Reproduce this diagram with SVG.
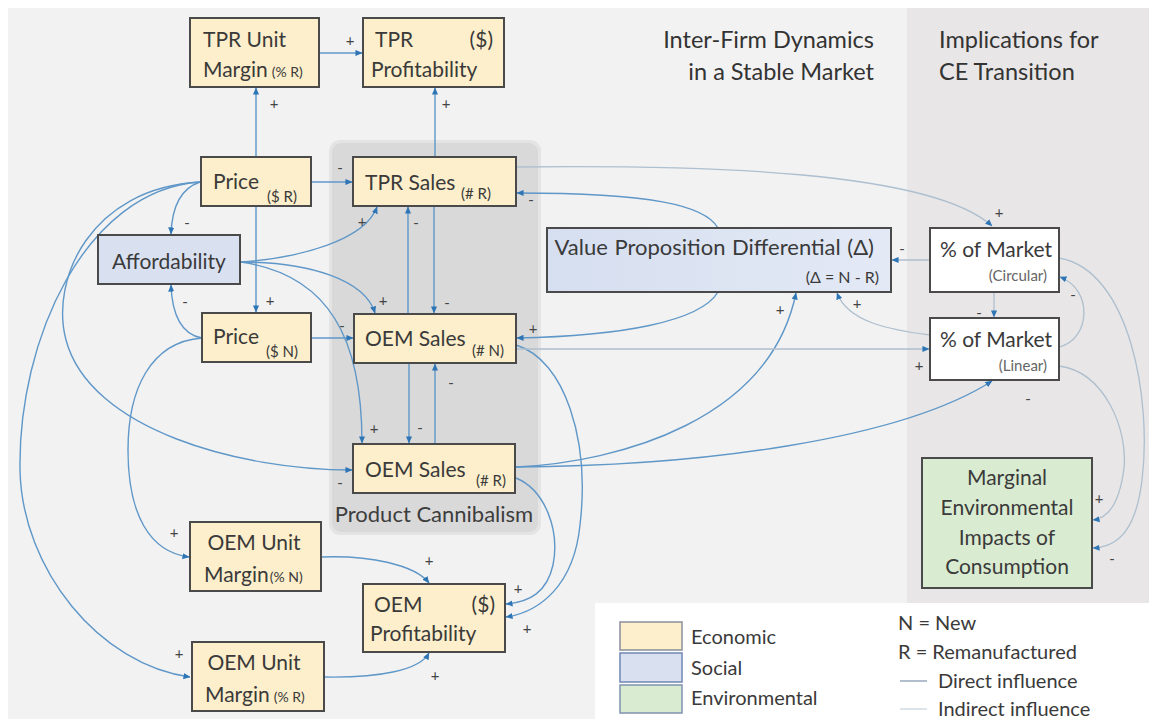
<svg xmlns="http://www.w3.org/2000/svg" width="1149" height="719" viewBox="0 0 1149 719">
<style>
  text { font-family: Lato, "Liberation Sans", sans-serif; fill: #3a3a3a; }
  .box { stroke: #4a4a4a; stroke-width: 2; }
  .eco { fill: #fdefcb; }
  .soc { fill: #d9e1f1; }
  .env { fill: #d9ebd1; }
  .wht { fill: #ffffff; }
  .lbl { font-size: 21px; }
  .sub { font-size: 14px; }
  .title { font-size: 23.5px; fill: #333333; }
  .sign { font-size: 15px; text-anchor: middle; dominant-baseline: central; fill: #444444; }
  .d { fill: none; stroke: #5f97c8; stroke-width: 1.4; marker-end: url(#ah); }
  .i { fill: none; stroke: #aebfcf; stroke-width: 1.3; marker-end: url(#ah); }
  .leg { font-size: 20px; }
</style>
<defs>
  <marker id="ah" viewBox="0 0 8 8" refX="7.5" refY="4" markerWidth="7" markerHeight="7" markerUnits="userSpaceOnUse" orient="auto">
    <path d="M0,0.5 L8,4 L0,7.5 z" fill="#2e75b6"/>
  </marker>
  <linearGradient id="vpg" x1="0" y1="0" x2="1" y2="0">
    <stop offset="0" stop-color="#d6dff0"/>
    <stop offset="1" stop-color="#e3e9f5"/>
  </linearGradient>
</defs>

<!-- backgrounds -->
<rect x="0" y="0" width="1149" height="719" fill="#ffffff"/>
<rect x="8" y="8" width="1141" height="711" fill="#f2f2f2"/>
<rect x="907" y="8" width="242" height="596" fill="#e8e6e6"/>
<rect x="329" y="140" width="212" height="395" rx="11" fill="#e4e4e4"/>
<rect x="332" y="143" width="206" height="389" rx="9" fill="#d9d9d9"/>
<text x="434" y="522" text-anchor="middle" style="font-size:22px;fill:#3d3d3d">Product Cannibalism</text>
<text x="874" y="48" text-anchor="end" class="title">Inter-Firm Dynamics</text>
<text x="874" y="80" text-anchor="end" class="title">in a Stable Market</text>
<text x="939" y="48" class="title">Implications for</text>
<text x="939" y="80" class="title">CE Transition</text>

<!-- connectors -->
<g id="connectors">
  <path class="d" d="M320,53 L362,53"/>
  <path class="d" d="M256,157 L256,88"/>
  <path class="d" d="M435,157 L435,88"/>
  <path class="d" d="M311,182 L352,182"/>
  <path class="d" d="M200,182 C182,188 172,205 171,234"/>
  <path class="d" d="M256,206 L256,312"/>
  <path class="d" d="M202,338 C182,335 172,315 171,285"/>
  <path class="d" d="M241,262 C300,258 365,240 377,207"/>
  <path class="d" d="M241,262 C310,262 365,280 375,313"/>
  <path class="d" d="M241,262 C330,275 362,340 362,443"/>
  <path class="d" d="M311,338 L353,338"/>
  <path class="d" d="M408,314 L408,207"/>
  <path class="d" d="M434,206 L434,313"/>
  <path class="d" d="M409,363 L409,443"/>
  <path class="d" d="M435,444 L435,364"/>
  <path class="d" d="M200,182 C90,188 50,280 66,340 C90,430 240,470 352,470"/>
  <path class="d" d="M200,182 C85,190 18,340 20,470 C22,570 100,665 190,677"/>
  <path class="d" d="M202,338 C150,342 128,390 128,450 C128,515 150,552 189,557"/>
  <path class="d" d="M321,557 C370,555 415,565 429,583"/>
  <path class="d" d="M324,677 C380,678 420,670 429,653"/>
  <path class="d" d="M516,478 C545,490 560,530 553,565 C547,592 530,602 506,604"/>
  <path class="d" d="M516,345 C565,360 590,440 580,525 C574,585 540,612 506,617"/>
  <path class="d" d="M718,228 C705,205 650,193 517,193"/>
  <path class="d" d="M718,292 C700,322 620,336 517,338"/>
  <path class="d" d="M516,467 C620,462 770,420 796,293"/>
  <path class="d" d="M516,467 C700,466 900,440 992,381"/>
  <path class="i" d="M516,349 L929,349"/>
  <path class="i" d="M516,167 C700,165 930,170 992,226"/>
  <path class="i" d="M930,260 L892,260"/>
  <path class="i" d="M930,335 C890,330 848,322 837,293"/>
  <path class="i" d="M994,292 L994,317"/>
  <path class="i" d="M1059,347 C1090,340 1094,290 1060,277"/>
  <path class="i" d="M1059,258 C1130,270 1152,400 1142,480 C1136,530 1118,547 1093,548"/>
  <path class="i" d="M1059,366 C1105,372 1128,430 1124,468 C1120,500 1110,518 1093,520"/>
</g>

<!-- nodes -->
<g id="tpr-unit-margin">
  <rect class="box eco" x="190" y="18" width="129" height="69"/>
  <text class="lbl" x="203" y="47">TPR Unit</text>
  <text class="lbl" x="203" y="77">Margin<tspan class="sub" dx="4">(% R)</tspan></text>
</g>
<g id="tpr-profitability">
  <rect class="box eco" x="363" y="18" width="141" height="69"/>
  <text class="lbl" x="375" y="47">TPR</text>
  <text class="lbl" x="493" y="47" text-anchor="end">($)</text>
  <text class="lbl" x="371" y="77">Profitability</text>
</g>
<g id="price-r">
  <rect class="box eco" x="201" y="157" width="110" height="49"/>
  <text class="lbl" x="213" y="189">Price</text>
  <text class="sub" x="267" y="202" style="font-size:15px">($ R)</text>
</g>
<g id="tpr-sales">
  <rect class="box eco" x="353" y="157" width="163" height="49"/>
  <text class="lbl" x="365" y="190">TPR Sales</text>
  <text class="sub" x="461" y="199" style="font-size:15px">(# R)</text>
</g>
<g id="affordability">
  <rect class="box soc" x="98" y="235" width="142" height="49"/>
  <text class="lbl" x="169" y="269" text-anchor="middle">Affordability</text>
</g>
<g id="price-n">
  <rect class="box eco" x="202" y="313" width="109" height="49"/>
  <text class="lbl" x="213" y="344">Price</text>
  <text class="sub" x="266" y="357" style="font-size:15px">($ N)</text>
</g>
<g id="oem-sales-n">
  <rect class="box eco" x="354" y="314" width="162" height="49"/>
  <text class="lbl" x="365" y="346">OEM Sales</text>
  <text class="sub" x="472" y="356" style="font-size:15px">(# N)</text>
</g>
<g id="oem-sales-r">
  <rect class="box eco" x="353" y="444" width="162" height="49"/>
  <text class="lbl" x="365" y="477">OEM Sales</text>
  <text class="sub" x="476" y="486" style="font-size:15px">(# R)</text>
</g>
<g id="value-proposition">
  <rect class="box" fill="url(#vpg)" x="547" y="228" width="344" height="64"/>
  <text x="874" y="255" text-anchor="end" style="font-size:22px;word-spacing:1px">Value Proposition Differential (Δ)</text>
  <text x="879" y="283" text-anchor="end" style="font-size:16px">(Δ = N - R)</text>
</g>
<g id="market-circular">
  <rect class="box wht" x="930" y="228" width="129" height="64"/>
  <text class="lbl" x="996" y="257" text-anchor="middle">% of Market</text>
  <text x="1047" y="281" text-anchor="end" style="font-size:15px;fill:#666666">(Circular)</text>
</g>
<g id="market-linear">
  <rect class="box wht" x="930" y="318" width="129" height="62"/>
  <text class="lbl" x="996" y="347" text-anchor="middle">% of Market</text>
  <text x="1047" y="371" text-anchor="end" style="font-size:15px;fill:#666666">(Linear)</text>
</g>
<g id="marginal-environmental">
  <rect class="box env" x="922" y="458" width="170" height="130"/>
  <text class="lbl" x="1007" y="485" text-anchor="middle">Marginal</text>
  <text class="lbl" x="1007" y="515" text-anchor="middle">Environmental</text>
  <text class="lbl" x="1007" y="545" text-anchor="middle">Impacts of</text>
  <text class="lbl" x="1007" y="574" text-anchor="middle">Consumption</text>
</g>
<g id="oem-unit-margin-n">
  <rect class="box eco" x="190" y="522" width="131" height="69"/>
  <text class="lbl" x="254" y="550" text-anchor="middle">OEM Unit</text>
  <text class="lbl" x="204" y="582">Margin<tspan class="sub" dx="1">(% N)</tspan></text>
</g>
<g id="oem-profitability">
  <rect class="box eco" x="363" y="584" width="142" height="68"/>
  <text class="lbl" x="374" y="612">OEM</text>
  <text class="lbl" x="495" y="612" text-anchor="end">($)</text>
  <text class="lbl" x="370" y="641">Profitability</text>
</g>
<g id="oem-unit-margin-r">
  <rect class="box eco" x="192" y="642" width="132" height="69"/>
  <text class="lbl" x="254" y="670" text-anchor="middle">OEM Unit</text>
  <text class="lbl" x="205" y="702">Margin<tspan class="sub" dx="4">(% R)</tspan></text>
</g>

<!-- polarity signs -->
<g id="signs">
  <text class="sign" x="350" y="40">+</text>
  <text class="sign" x="274" y="103">+</text>
  <text class="sign" x="446" y="103">+</text>
  <text class="sign" x="340" y="167">-</text>
  <text class="sign" x="531" y="199">-</text>
  <text class="sign" x="362" y="221">+</text>
  <text class="sign" x="416" y="222">-</text>
  <text class="sign" x="187" y="222">-</text>
  <text class="sign" x="999" y="212">+</text>
  <text class="sign" x="902" y="248">-</text>
  <text class="sign" x="1073" y="294">-</text>
  <text class="sign" x="979" y="312">-</text>
  <text class="sign" x="780" y="309">+</text>
  <text class="sign" x="857" y="303">+</text>
  <text class="sign" x="270" y="300">+</text>
  <text class="sign" x="185" y="301">-</text>
  <text class="sign" x="383" y="300">+</text>
  <text class="sign" x="447" y="302">-</text>
  <text class="sign" x="342" y="325">-</text>
  <text class="sign" x="533" y="328">+</text>
  <text class="sign" x="919" y="365">+</text>
  <text class="sign" x="451" y="382">-</text>
  <text class="sign" x="1028" y="398">-</text>
  <text class="sign" x="374" y="428">+</text>
  <text class="sign" x="420" y="427">-</text>
  <text class="sign" x="340" y="482">-</text>
  <text class="sign" x="1099" y="498">+</text>
  <text class="sign" x="1112" y="558">-</text>
  <text class="sign" x="174" y="532">+</text>
  <text class="sign" x="429" y="560">+</text>
  <text class="sign" x="518" y="588">+</text>
  <text class="sign" x="527" y="628">+</text>
  <text class="sign" x="179" y="653">+</text>
  <text class="sign" x="435" y="675">+</text>
</g>

<!-- legend -->
<g id="legend">
  <rect x="595" y="603" width="554" height="116" fill="#ffffff"/>
  <rect x="620" y="622" width="62" height="28" fill="#fdefcb" stroke="#8a8f9a" stroke-width="1.5"/>
  <rect x="620" y="653" width="62" height="29" fill="#d9e1f1" stroke="#6f86b3" stroke-width="1.5"/>
  <rect x="620" y="685" width="62" height="28" fill="#d9ebd1" stroke="#7f93b0" stroke-width="1.5"/>
  <text class="leg" x="691" y="644">Economic</text>
  <text class="leg" x="691" y="675">Social</text>
  <text class="leg" x="691" y="705">Environmental</text>
  <text class="leg" x="898" y="630">N = New</text>
  <text class="leg" x="898" y="659">R = Remanufactured</text>
  <line x1="900" y1="681" x2="927" y2="681" stroke="#8fa3b8" stroke-width="1.4"/>
  <text class="leg" x="938" y="688">Direct influence</text>
  <line x1="900" y1="709" x2="927" y2="709" stroke="#cfd8e0" stroke-width="1.4"/>
  <text class="leg" x="938" y="716">Indirect influence</text>
</g>
</svg>
